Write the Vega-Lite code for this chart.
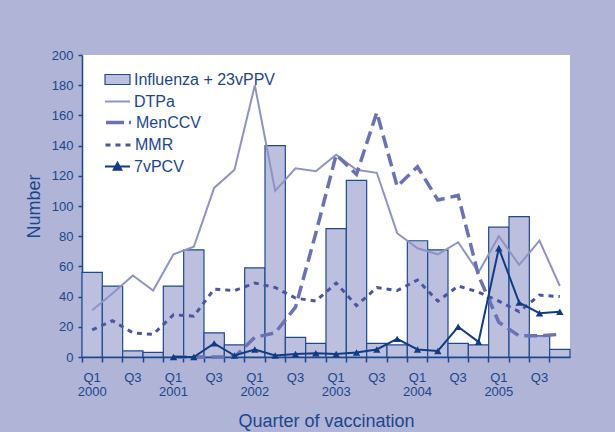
{
  "$schema": "https://vega.github.io/schema/vega-lite/v6.json",
  "width": 488,
  "height": 302,
  "autosize": {"type": "none"},
  "padding": {"left": 82, "top": 55, "right": 45, "bottom": 75},
  "background": "#b0b4d6",
  "config": {
    "view": {"fill": "white", "stroke": null},
    "font": "Liberation Sans",
    "axis": {"grid": false, "domainColor": "#1c468c", "tickColor": "#1c468c", "labelColor": "#1c468c", "titleColor": "#1c468c", "labelFont": "Liberation Sans", "titleFont": "Liberation Sans", "titleFontWeight": "normal", "domainWidth": 1.5, "tickWidth": 1.5},
    "legend": {"orient": "none", "legendX": 22, "title": null, "padding": 0, "labelFontSize": 16, "labelColor": "#1c468c", "labelFont": "Liberation Sans", "labelOffset": 3, "symbolSize": 625, "symbolOpacity": 1}
  },
  "resolve": {"scale": {"color": "independent"}, "legend": {"color": "independent"}},
  "data": {"values": [
    {"q":"2000 Q1","s":"Influenza + 23vPPV","v":56},{"q":"2000 Q2","s":"Influenza + 23vPPV","v":47},{"q":"2000 Q3","s":"Influenza + 23vPPV","v":4},{"q":"2000 Q4","s":"Influenza + 23vPPV","v":3},
    {"q":"2001 Q1","s":"Influenza + 23vPPV","v":47},{"q":"2001 Q2","s":"Influenza + 23vPPV","v":71},{"q":"2001 Q3","s":"Influenza + 23vPPV","v":16},{"q":"2001 Q4","s":"Influenza + 23vPPV","v":8},
    {"q":"2002 Q1","s":"Influenza + 23vPPV","v":59},{"q":"2002 Q2","s":"Influenza + 23vPPV","v":140},{"q":"2002 Q3","s":"Influenza + 23vPPV","v":13},{"q":"2002 Q4","s":"Influenza + 23vPPV","v":9},
    {"q":"2003 Q1","s":"Influenza + 23vPPV","v":85},{"q":"2003 Q2","s":"Influenza + 23vPPV","v":117},{"q":"2003 Q3","s":"Influenza + 23vPPV","v":9},{"q":"2003 Q4","s":"Influenza + 23vPPV","v":8},
    {"q":"2004 Q1","s":"Influenza + 23vPPV","v":77},{"q":"2004 Q2","s":"Influenza + 23vPPV","v":71},{"q":"2004 Q3","s":"Influenza + 23vPPV","v":9},{"q":"2004 Q4","s":"Influenza + 23vPPV","v":8},
    {"q":"2005 Q1","s":"Influenza + 23vPPV","v":86},{"q":"2005 Q2","s":"Influenza + 23vPPV","v":93},{"q":"2005 Q3","s":"Influenza + 23vPPV","v":14},{"q":"2005 Q4","s":"Influenza + 23vPPV","v":5},
    {"q":"2000 Q1","s":"DTPa","v":31},{"q":"2000 Q2","s":"DTPa","v":42},{"q":"2000 Q3","s":"DTPa","v":54},{"q":"2000 Q4","s":"DTPa","v":44},
    {"q":"2001 Q1","s":"DTPa","v":68},{"q":"2001 Q2","s":"DTPa","v":73},{"q":"2001 Q3","s":"DTPa","v":112},{"q":"2001 Q4","s":"DTPa","v":124},
    {"q":"2002 Q1","s":"DTPa","v":180},{"q":"2002 Q2","s":"DTPa","v":110},{"q":"2002 Q3","s":"DTPa","v":125},{"q":"2002 Q4","s":"DTPa","v":123},
    {"q":"2003 Q1","s":"DTPa","v":134},{"q":"2003 Q2","s":"DTPa","v":124},{"q":"2003 Q3","s":"DTPa","v":122},{"q":"2003 Q4","s":"DTPa","v":82},
    {"q":"2004 Q1","s":"DTPa","v":72},{"q":"2004 Q2","s":"DTPa","v":68},{"q":"2004 Q3","s":"DTPa","v":76},{"q":"2004 Q4","s":"DTPa","v":56},
    {"q":"2005 Q1","s":"DTPa","v":80},{"q":"2005 Q2","s":"DTPa","v":61},{"q":"2005 Q3","s":"DTPa","v":77},{"q":"2005 Q4","s":"DTPa","v":47},
    {"q":"2001 Q1","s":"MenCCV","v":0},{"q":"2001 Q2","s":"MenCCV","v":0},{"q":"2001 Q3","s":"MenCCV","v":0},{"q":"2001 Q4","s":"MenCCV","v":0},
    {"q":"2002 Q1","s":"MenCCV","v":13},{"q":"2002 Q2","s":"MenCCV","v":16},{"q":"2002 Q3","s":"MenCCV","v":33},{"q":"2002 Q4","s":"MenCCV","v":82},
    {"q":"2003 Q1","s":"MenCCV","v":134},{"q":"2003 Q2","s":"MenCCV","v":121},{"q":"2003 Q3","s":"MenCCV","v":162},{"q":"2003 Q4","s":"MenCCV","v":113},
    {"q":"2004 Q1","s":"MenCCV","v":126},{"q":"2004 Q2","s":"MenCCV","v":104},{"q":"2004 Q3","s":"MenCCV","v":107},{"q":"2004 Q4","s":"MenCCV","v":54},
    {"q":"2005 Q1","s":"MenCCV","v":23},{"q":"2005 Q2","s":"MenCCV","v":14},{"q":"2005 Q3","s":"MenCCV","v":14},{"q":"2005 Q4","s":"MenCCV","v":15},
    {"q":"2000 Q1","s":"MMR","v":18},{"q":"2000 Q2","s":"MMR","v":24},{"q":"2000 Q3","s":"MMR","v":16},{"q":"2000 Q4","s":"MMR","v":15},
    {"q":"2001 Q1","s":"MMR","v":28},{"q":"2001 Q2","s":"MMR","v":27},{"q":"2001 Q3","s":"MMR","v":45},{"q":"2001 Q4","s":"MMR","v":44},
    {"q":"2002 Q1","s":"MMR","v":49},{"q":"2002 Q2","s":"MMR","v":46},{"q":"2002 Q3","s":"MMR","v":39},{"q":"2002 Q4","s":"MMR","v":37},
    {"q":"2003 Q1","s":"MMR","v":49},{"q":"2003 Q2","s":"MMR","v":34},{"q":"2003 Q3","s":"MMR","v":46},{"q":"2003 Q4","s":"MMR","v":44},
    {"q":"2004 Q1","s":"MMR","v":51},{"q":"2004 Q2","s":"MMR","v":37},{"q":"2004 Q3","s":"MMR","v":47},{"q":"2004 Q4","s":"MMR","v":43},
    {"q":"2005 Q1","s":"MMR","v":37},{"q":"2005 Q2","s":"MMR","v":30},{"q":"2005 Q3","s":"MMR","v":41},{"q":"2005 Q4","s":"MMR","v":40},
    {"q":"2001 Q1","s":"7vPCV","v":0},{"q":"2001 Q2","s":"7vPCV","v":0},{"q":"2001 Q3","s":"7vPCV","v":9},{"q":"2001 Q4","s":"7vPCV","v":1},
    {"q":"2002 Q1","s":"7vPCV","v":5},{"q":"2002 Q2","s":"7vPCV","v":1},{"q":"2002 Q3","s":"7vPCV","v":2},{"q":"2002 Q4","s":"7vPCV","v":2.5},
    {"q":"2003 Q1","s":"7vPCV","v":2},{"q":"2003 Q2","s":"7vPCV","v":3},{"q":"2003 Q3","s":"7vPCV","v":5},{"q":"2003 Q4","s":"7vPCV","v":12},
    {"q":"2004 Q1","s":"7vPCV","v":5},{"q":"2004 Q2","s":"7vPCV","v":4},{"q":"2004 Q3","s":"7vPCV","v":20},{"q":"2004 Q4","s":"7vPCV","v":10},
    {"q":"2005 Q1","s":"7vPCV","v":72},{"q":"2005 Q2","s":"7vPCV","v":36},{"q":"2005 Q3","s":"7vPCV","v":29},{"q":"2005 Q4","s":"7vPCV","v":30}
  ]},
  "encoding": {
    "x": {
      "field": "q", "type": "ordinal",
      "scale": {"paddingInner": 0, "paddingOuter": 0},
      "axis": {
        "title": "Quarter of vaccination", "titleFontSize": 18, "titleY": 69, "titleBaseline": "alphabetic",
        "labelAngle": 0, "labelFontSize": 13, "labelPadding": 9, "labelLineHeight": 14.5,
        "bandPosition": 0, "tickSize": 5, "labelOverlap": false, "labelFlush": false,
        "labelExpr": "indexof(datum.label,'Q1')>=0 ? ['Q1', substring(datum.label,0,4)] : (indexof(datum.label,'Q3')>=0 ? 'Q3' : '')"
      }
    },
    "y": {
      "field": "v", "type": "quantitative",
      "scale": {"domain": [0, 200], "nice": false},
      "axis": {
        "title": "Number", "titleFontSize": 18, "titleX": -43, "titleY": 151, "titleBaseline": "alphabetic", "titleAlign": "center", "titleAngle": -90,
        "values": [0,20,40,60,80,100,120,140,160,180,200], "labelFontSize": 13, "labelPadding": 5, "tickSize": 4
      }
    }
  },
  "layer": [
    {
      "transform": [{"filter": "datum.s === 'Influenza + 23vPPV'"}],
      "mark": {"type": "bar", "stroke": "#1e4a8c", "strokeWidth": 1.2},
      "encoding": {
        "color": {
          "field": "s", "type": "nominal",
          "scale": {"domain": ["Influenza + 23vPPV"], "range": ["#bcc0de"]},
          "legend": {"legendY": 11, "symbolType": "M-1,-0.4H1V0.4H-1Z", "symbolStrokeColor": "#1e4a8c", "symbolStrokeWidth": 1.2}
        }
      }
    },
    {
      "transform": [{"filter": "datum.s === 'DTPa'"}],
      "mark": {"type": "line", "strokeWidth": 2},
      "encoding": {"color": {"field": "s", "type": "nominal", "scale": {"domain": ["DTPa"], "range": ["#8e93c5"]},
        "legend": {"legendY": 33, "symbolType": "M-1,0H1", "symbolStrokeWidth": 2}}}
    },
    {
      "transform": [{"filter": "datum.s === 'MenCCV'"}],
      "mark": {"type": "line", "strokeWidth": 3.5, "strokeDash": [13, 6]},
      "encoding": {"color": {"field": "s", "type": "nominal", "scale": {"domain": ["MenCCV"], "range": ["#6b72b3"]},
        "legend": {"legendY": 53, "symbolType": "M-1,0H1", "symbolStrokeWidth": 3.5, "symbolDash": [18, 5]}}}
    },
    {
      "transform": [{"filter": "datum.s === 'MMR'"}],
      "mark": {"type": "line", "strokeWidth": 3, "strokeDash": [5, 5]},
      "encoding": {"color": {"field": "s", "type": "nominal", "scale": {"domain": ["MMR"], "range": ["#4a56a0"]},
        "legend": {"legendY": 76, "symbolType": "M-1,0H1", "symbolStrokeWidth": 3, "symbolDash": [5, 5]}}}
    },
    {
      "transform": [{"filter": "datum.s === '7vPCV'"}],
      "mark": {"type": "line", "strokeWidth": 2, "color": "#0f3c84"}
    },
    {
      "transform": [{"filter": "datum.s === '7vPCV'"}],
      "mark": {"type": "point", "shape": "triangle-up", "filled": true, "size": 55, "opacity": 1},
      "encoding": {"color": {"field": "s", "type": "nominal", "scale": {"domain": ["7vPCV"], "range": ["#0f3c84"]},
        "legend": {"legendY": 98, "symbolType": "M-1,0H1M-0.3,0.25L0,-0.3L0.3,0.25Z", "symbolStrokeColor": "#0f3c84", "symbolFillColor": "#0f3c84", "symbolStrokeWidth": 2}}}
    }
  ]
}
